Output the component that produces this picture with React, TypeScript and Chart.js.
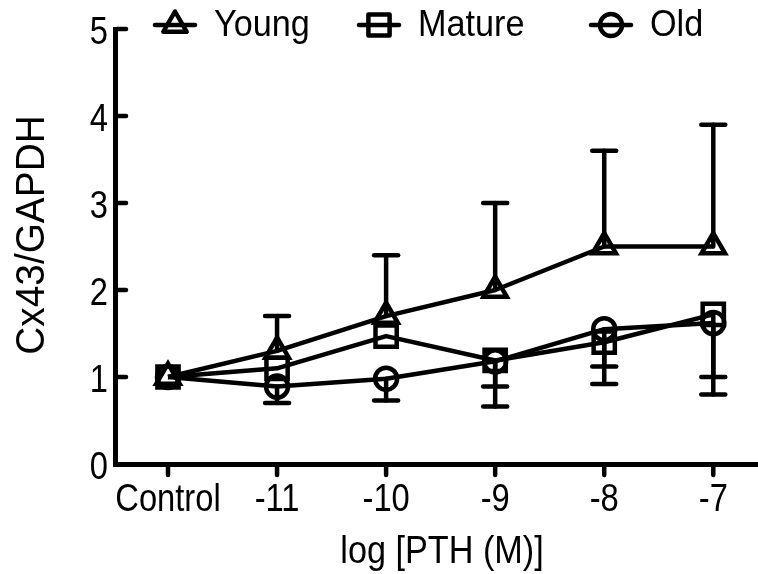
import React, { useEffect, useRef } from "react";
import { Chart, registerables } from "chart.js";

Chart.register(...registerables);

const categories = ["Control", "-11", "-10", "-9", "-8", "-7"];
const yTickValues = [0, 1, 2, 3, 4, 5];
const seriesLabels = ["Young", "Mature", "Old"];
const xTitle = "log [PTH (M)]";
const yTitle = "Cx43/GAPDH";

const youngMean = [1.0, 1.3, 1.7, 2.0, 2.5, 2.5];
const youngErrEnd = [1.0, 1.7, 2.4, 3.0, 3.6, 3.9];

const matureMean = [1.0, 1.1, 1.47, 1.19, 1.4, 1.72];
const matureErrEnd = [1.0, 1.1, 1.47, 0.89, 0.92, 0.8];

const oldMean = [1.0, 0.89, 0.98, 1.18, 1.55, 1.62];
const oldErrEnd = [1.0, 0.7, 0.73, 0.66, 1.12, 1.0];

const FONT = "'Liberation Sans', Arial, Helvetica, sans-serif";
const INK = "#000000";
const LW = 4.5;

function drawMarker(ctx: CanvasRenderingContext2D, style: string, x: number, y: number, r: number) {
  ctx.beginPath();
  if (style === "triangle") {
    ctx.moveTo(x, y - r);
    ctx.lineTo(x + r * 0.866, y + r * 0.5);
    ctx.lineTo(x - r * 0.866, y + r * 0.5);
    ctx.closePath();
  } else if (style === "rect") {
    const s = r * Math.SQRT1_2;
    ctx.rect(x - s, y - s, 2 * s, 2 * s);
  } else {
    ctx.arc(x, y, r, 0, Math.PI * 2);
  }
  ctx.stroke();
}

// Draw text whose cap-height is centred on (x, y), condensed horizontally by sx.
function drawText(
  ctx: CanvasRenderingContext2D,
  text: string,
  x: number,
  y: number,
  size: number,
  sx: number,
  align: CanvasTextAlign,
  rotate = 0
) {
  ctx.save();
  ctx.translate(x, y);
  if (rotate) ctx.rotate(rotate);
  ctx.scale(sx, 1);
  ctx.font = `${size}px ${FONT}`;
  ctx.fillStyle = INK;
  ctx.textAlign = align;
  ctx.textBaseline = "alphabetic";
  ctx.fillText(text, 0, size * 0.358);
  ctx.restore();
}

const errorBarPlugin = {
  id: "errorBars",
  afterDatasetsDraw(chart: any) {
    const ctx = chart.ctx;
    const xs = chart.scales.x;
    const ys = chart.scales.y;
    ctx.save();
    ctx.strokeStyle = INK;
    ctx.lineWidth = LW;
    ctx.lineCap = "round";
    chart.data.datasets.forEach((ds: any) => {
      const ends: number[] = ds.errEnd;
      ds.data.forEach((pt: any, i: number) => {
        const end = ends[i];
        if (end === pt.y) return;
        const px = xs.getPixelForValue(pt.x);
        const py = ys.getPixelForValue(pt.y);
        const pe = ys.getPixelForValue(end);
        ctx.beginPath();
        ctx.moveTo(px, py);
        ctx.lineTo(px, pe);
        ctx.stroke();
        ctx.beginPath();
        ctx.moveTo(px - 12, pe);
        ctx.lineTo(px + 12, pe);
        ctx.stroke();
      });
    });
    ctx.restore();
  },
};

const axisDecorPlugin = {
  id: "axisDecor",
  afterDraw(chart: any) {
    const ctx = chart.ctx;
    const xs = chart.scales.x;
    const ys = chart.scales.y;
    const area = chart.chartArea;
    ctx.save();
    ctx.strokeStyle = INK;
    ctx.lineWidth = LW;
    ctx.lineCap = "round";
    yTickValues.forEach((v) => {
      const py = ys.getPixelForValue(v);
      if (v !== 0) {
        ctx.beginPath();
        ctx.moveTo(area.left + 2, py);
        ctx.lineTo(area.left + 11, py);
        ctx.stroke();
      }
      drawText(ctx, String(v), area.left - 7, py + 1, 38, 0.86, "right");
    });
    categories.forEach((c, i) => {
      const px = xs.getPixelForValue(i);
      ctx.beginPath();
      ctx.moveTo(px, area.bottom + 2);
      ctx.lineTo(px, area.bottom + 11);
      ctx.stroke();
      drawText(ctx, c, px, area.bottom + 33, 38, 0.86, "center");
    });
    drawText(ctx, xTitle, 442, 549, 38, 0.9, "center");
    drawText(ctx, yTitle, 30, 235, 40, 0.97, "center", -Math.PI / 2);
    ctx.restore();
  },
};

const legendPlugin = {
  id: "customLegend",
  afterDraw(chart: any) {
    const ctx = chart.ctx;
    const centers = [175, 379, 611];
    const cy = 25;
    ctx.save();
    ctx.strokeStyle = INK;
    ctx.lineWidth = LW;
    ctx.lineJoin = "round";
    ctx.lineCap = "round";
    chart.data.datasets.forEach((ds: any, i: number) => {
      const cx = centers[i];
      ctx.beginPath();
      ctx.moveTo(cx - 20, cy);
      ctx.lineTo(cx + 20, cy);
      ctx.stroke();
      drawMarker(ctx, ds.pointStyle, cx, cy, ds.pointRadius);
      drawText(ctx, ds.label, cx + 39, cy - 2, 36, 0.95, "left");
    });
    ctx.restore();
  },
};

function toPoints(values: number[]) {
  return values.map((v, i) => ({ x: i, y: v }));
}

function makeDataset(label: string, values: number[], ends: number[], style: string, radius: number) {
  return {
    label,
    data: toPoints(values),
    errEnd: ends,
    borderColor: INK,
    borderWidth: LW,
    borderJoinStyle: "round",
    pointStyle: style,
    pointRadius: radius,
    pointBorderWidth: LW,
    pointBackgroundColor: "rgba(0,0,0,0)",
    pointBorderColor: INK,
    fill: false,
    tension: 0,
    clip: false,
  } as any;
}

export default function App() {
  const ref = useRef<HTMLCanvasElement | null>(null);

  useEffect(() => {
    if (!ref.current) return;
    const chart = new Chart(ref.current, {
      type: "line",
      data: {
        datasets: [
          makeDataset(seriesLabels[0], youngMean, youngErrEnd, "triangle", 13.5),
          makeDataset(seriesLabels[1], matureMean, matureErrEnd, "rect", 15),
          makeDataset(seriesLabels[2], oldMean, oldErrEnd, "circle", 11),
        ],
      },
      options: {
        animation: false,
        responsive: false,
        devicePixelRatio: 1,
        layout: { autoPadding: false, padding: { top: 29, right: 0, left: 0, bottom: 0 } },
        plugins: {
          legend: { display: false },
          tooltip: { enabled: false },
        },
        scales: {
          x: {
            type: "linear",
            min: -0.486,
            max: 5.41,
            afterBuildTicks: (s: any) => {
              s.ticks = categories.map((_, i) => ({ value: i }));
            },
            afterFit: (s: any) => {
              s.height = 110;
              s.paddingLeft = 0;
              s.paddingRight = 0;
            },
            grid: { display: false, drawTicks: false },
            border: { display: true, width: 5, color: INK },
            ticks: { display: false },
            title: { display: false },
          },
          y: {
            type: "linear",
            min: 0,
            max: 5,
            afterBuildTicks: (s: any) => {
              s.ticks = yTickValues.map((v) => ({ value: v }));
            },
            afterFit: (s: any) => {
              s.width = 115;
              s.paddingTop = 0;
              s.paddingBottom = 0;
            },
            grid: { display: false, drawTicks: false },
            border: { display: true, width: 5, color: INK },
            ticks: { display: false },
            title: { display: false },
          },
        },
      } as any,
      plugins: [errorBarPlugin, axisDecorPlugin, legendPlugin],
    });
    return () => chart.destroy();
  }, []);

  return (
    <div style={{ position: "absolute", left: 0, top: 0, width: 758, height: 574, background: "#fff" }}>
      <canvas ref={ref} width={758} height={574} style={{ display: "block", width: 758, height: 574 }} />
    </div>
  );
}
